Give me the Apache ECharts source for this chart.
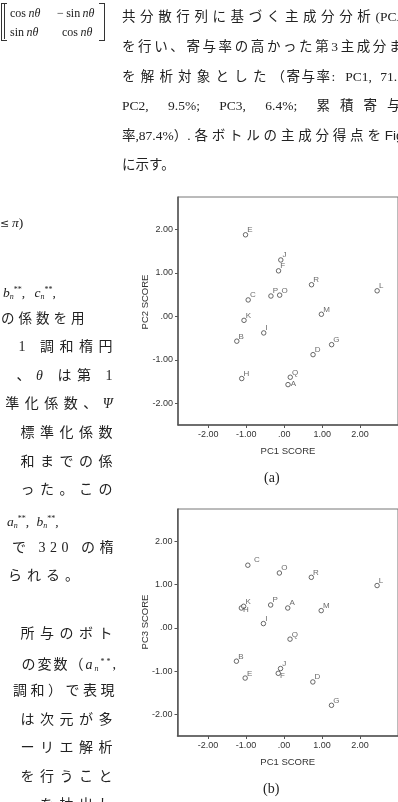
<!DOCTYPE html>
<html><head><meta charset="utf-8">
<script src="https://cdn.jsdelivr.net/npm/echarts@6/dist/echarts.min.js"></script>
<style>
html,body{margin:0;padding:0;width:398px;height:802px;overflow:hidden;background:#fff;}
#chart{position:absolute;left:0;top:0;width:398px;height:802px;}
.t{position:absolute;white-space:nowrap;font-family:"Liberation Serif","Noto Sans CJK JP",serif;font-size:13.5px;color:#222;line-height:14px;}
.r{text-align:right;right:280px;font-size:14px;letter-spacing:5.5px;}
.m{font-family:"Liberation Serif",serif;font-size:12px;}
i{font-style:italic;}
sub{font-size:8px;vertical-align:-2px;}
sup{font-size:8px;vertical-align:5px;}
</style></head><body>
<div id="chart"></div>

<!-- matrix, top left -->
<div style="position:absolute;left:1px;top:3px;width:5px;height:36px;border:1px solid #333;border-right:none;"></div>
<div style="position:absolute;left:4px;top:3px;width:5px;height:36px;border-left:1px solid #333;"></div>
<div style="position:absolute;left:99px;top:3px;width:5px;height:36px;border:1px solid #333;border-left:none;"></div>
<div class="t m" style="left:10px;top:6px;">cos&thinsp;<i>nθ</i></div>
<div class="t m" style="left:57px;top:6px;">−&thinsp;sin&thinsp;<i>nθ</i></div>
<div class="t m" style="left:10px;top:25px;">sin&thinsp;<i>nθ</i></div>
<div class="t m" style="left:62px;top:25px;">cos&thinsp;<i>nθ</i></div>

<!-- right column paragraph -->
<div class="t" style="left:122px;top:10px;"><span style="letter-spacing:4.6px;">共分散行列に基づく主成分分析</span><span>(PCA)</span></div>
<div class="t" style="left:122px;top:40px;letter-spacing:2.6px;">を行い、寄与率の高かった第3主成分まで</div>
<div class="t" style="left:122px;top:70px;"><span style="letter-spacing:5.2px;">を解析対象とした</span><span style="letter-spacing:1.5px;">（寄与率:</span><span style="word-spacing:5px;"> PC1, 71.5%;</span></div>
<div class="t" style="left:122px;top:99px;word-spacing:16px;">PC2, 9.5%; PC3, 6.4%; <span style="letter-spacing:10px;">累積寄与</span></div>
<div class="t" style="left:122px;top:129px;"><span>率,87.4%）</span><span style="letter-spacing:3.8px;">.各ボトルの主成分得点を</span><span style="font-family:'Liberation Sans';">Fig. 2</span></div>
<div class="t" style="left:122px;top:158px;">に示す。</div>

<!-- left column -->
<div class="t" style="left:0px;top:216px;"><span style="font-family:'DejaVu Serif';font-size:11px;">≤</span>&thinsp;<i>π</i>)</div>
<div class="t" style="left:3px;top:283px;word-spacing:6px;"><i>b<sub>n</sub></i><sup>**</sup>, <i>c<sub>n</sub></i><sup>**</sup>,</div>
<div class="t" style="left:1px;top:312px;letter-spacing:4px;">の係数を用</div>
<div class="t r" style="top:340px;">1 調和楕円</div>
<div class="t r" style="top:369px;">、<i>θ</i> は第 1</div>
<div class="t r" style="top:397px;">準化係数、<i>Ψ</i></div>
<div class="t r" style="top:426px;">標準化係数</div>
<div class="t r" style="top:455px;">和までの係</div>
<div class="t r" style="top:483px;">った。この</div>
<div class="t" style="left:7px;top:512px;word-spacing:4px;"><i>a<sub>n</sub></i><sup>**</sup>, <i>b<sub>n</sub></i><sup>**</sup>,</div>
<div class="t r" style="top:541px;letter-spacing:4.5px;">で 320 の楕</div>
<div class="t" style="left:8px;top:569px;letter-spacing:5px;font-size:14px;">られる。</div>
<div class="t r" style="top:627px;">所与のボト</div>
<div class="t r" style="top:655px;letter-spacing:2px;">の変数（<i>a<sub>n</sub></i><sup>**</sup>,</div>
<div class="t r" style="top:684px;letter-spacing:3.5px;">調和）で表現</div>
<div class="t r" style="top:713px;">は次元が多</div>
<div class="t r" style="top:741px;">ーリエ解析</div>
<div class="t r" style="top:770px;">を行うこと</div>
<div class="t r" style="top:798px;">を抽出し</div>

<!-- captions -->
<div class="t" style="left:264px;top:471px;font-size:14px;">(a)</div>
<div class="t" style="left:263px;top:782px;font-size:14px;">(b)</div>

<script>
// bottle identifiers
const bottles = ['A','B','C','D','E','F','G','H','I','J','K','L','M','O','P','Q','R'];
// principal component scores
const pc1 = [0.10,-1.25,-0.95,0.76,-1.02,-0.15,1.25,-1.12,-0.54,-0.09,-1.06,2.45,0.98,-0.12,-0.35,0.16,0.72];
const pc2 = [-1.57,-0.57,0.38,-0.88,1.88,1.05,-0.65,-1.43,-0.38,1.30,-0.09,0.59,0.05,0.49,0.47,-1.40,0.73];
const pc3 = [0.46,-0.77,1.45,-1.25,-1.16,-1.05,-1.79,0.46,0.10,-0.94,0.50,0.98,0.40,1.27,0.53,-0.26,1.17];
// axis ticks
const tickValues = [-2,-1,0,1,2];
const tickLabels = ['-2.00','-1.00','.00','1.00','2.00'];

// label placement styles (not data)
const defaultLabelPos = [4.5,-6];
const labelPosA = {A:[5.5,-2]};
const labelPosB = {C:[9,-7], H:[4.5,1], F:[4.5,1]};

const chart = echarts.init(document.getElementById('chart'), null, {renderer:'canvas'});
const AXC = '#555';
const fmt = v => { const i = tickValues.indexOf(Math.round(v*100)/100); return i>=0 ? tickLabels[i] : ''; };

function mkSeries(yArr, gi, posMap){
  return {
    type:'scatter', xAxisIndex:gi, yAxisIndex:gi,
    symbol:'circle', symbolSize:4.5,
    itemStyle:{color:'#fff', borderColor:'#444', borderWidth:1},
    data: bottles.map((b,i)=>({
      value:[pc1[i], yArr[i]], name:b,
      label:{position: posMap[b] || defaultLabelPos}
    })),
    label:{show:true, formatter: p=>p.name, fontSize:8, color:'#444',
      fontFamily:'Liberation Sans, Arial, sans-serif'},
    emphasis:{disabled:true}, silent:true, animation:false
  };
}
function mkX(gi){
  return {
    type:'value', gridIndex:gi, min:-2.8, max:3.0,
    axisLine:{show:true, onZero:false, lineStyle:{color:AXC, width:1.5}},
    axisTick:{show:true, customValues:tickValues, length:3, lineStyle:{color:AXC}},
    axisLabel:{customValues:tickValues, formatter:fmt, fontSize:9, color:'#333', margin:5,
      fontFamily:'Liberation Sans, Arial, sans-serif'},
    splitLine:{show:false},
    name:'PC1 SCORE', nameLocation:'middle', nameGap:21,
    nameTextStyle:{fontSize:9.5, color:'#333', fontFamily:'Liberation Sans, Arial, sans-serif'}
  };
}
function mkY(gi){
  return {
    type:'value', gridIndex:gi, min:-2.5, max:2.75,
    axisLine:{show:true, onZero:false, lineStyle:{color:AXC, width:1.5}},
    axisTick:{show:true, customValues:tickValues, length:3, lineStyle:{color:AXC}},
    axisLabel:{customValues:tickValues, formatter:fmt, fontSize:9, color:'#333', margin:5,
      fontFamily:'Liberation Sans, Arial, sans-serif'},
    splitLine:{show:false}
  };
}

chart.setOption({
  backgroundColor:'#fff',
  animation:false,
  grid:[
    {left:178, top:197, width:234, height:228, show:true, borderColor:'#777', borderWidth:1},
    {left:177.5, top:509, width:234, height:227, show:true, borderColor:'#777', borderWidth:1}
  ],
  xAxis:[mkX(0), mkX(1)],
  yAxis:[mkY(0), mkY(1)],
  series:[mkSeries(pc2,0,labelPosA), mkSeries(pc3,1,labelPosB)],
  graphic:[
    {type:'text', x:145, y:302, rotation:Math.PI/2,
     style:{text:'PC2 SCORE', align:'center', verticalAlign:'middle', fontSize:9.5, fill:'#333',
       fontFamily:'Liberation Sans, Arial, sans-serif'}},
    {type:'text', x:145, y:622, rotation:Math.PI/2,
     style:{text:'PC3 SCORE', align:'center', verticalAlign:'middle', fontSize:9.5, fill:'#333',
       fontFamily:'Liberation Sans, Arial, sans-serif'}}
  ]
});
</script>
</body></html>
